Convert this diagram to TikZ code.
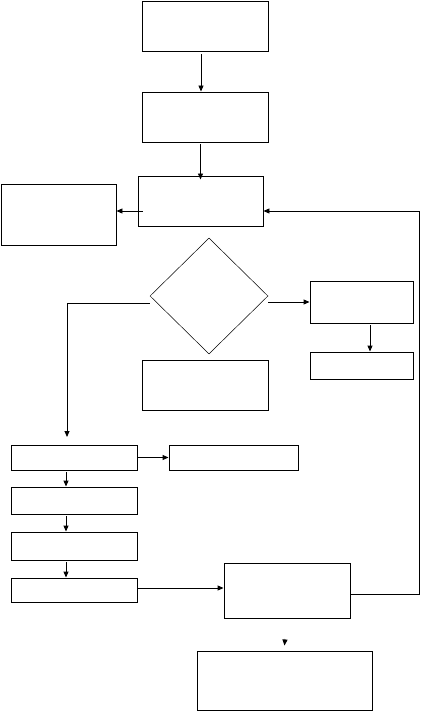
\documentclass[tikz,border=0pt]{standalone}
\usetikzlibrary{arrows.meta,shapes.geometric,calc}
\tikzset{
  blk/.style={draw,rectangle,inner sep=0pt,line width=0.9pt},
  dec/.style={draw,diamond,inner sep=0pt,line width=0.5pt}
}
\begin{document}
\begin{tikzpicture}[x=1pt,y=-1pt,>={Triangle[length=6pt,width=5pt]},line width=0.9pt]
\useasboundingbox (0,0) rectangle (421,711);
% boxes
\node[blk,minimum width=126,minimum height=50] (init) at (205,26) {};
\node[blk,minimum width=126,minimum height=50] (load) at (205,117) {};
\node[blk,minimum width=125,minimum height=50] (main) at (200.5,201) {};
\node[blk,minimum width=115,minimum height=61] (side) at (58.5,214.5) {};
\node[dec,minimum width=118,minimum height=116] (test) at (209,296) {};
\node[blk,minimum width=103,minimum height=42] (yesA) at (361.5,302) {};
\node[blk,minimum width=103,minimum height=27] (yesB) at (361.5,365.5) {};
\node[blk,minimum width=126,minimum height=50] (under) at (205,385) {};
\node[blk,minimum width=126,minimum height=25] (stepA) at (74,457.5) {};
\node[blk,minimum width=129,minimum height=25] (stepB) at (233.5,457.5) {};
\node[blk,minimum width=126,minimum height=27] (stepC) at (74,500.5) {};
\node[blk,minimum width=126,minimum height=28] (stepD) at (74,546) {};
\node[blk,minimum width=126,minimum height=24] (stepE) at (74,590) {};
\node[blk,minimum width=126,minimum height=55] (merge) at (287,590.5) {};
\node[blk,minimum width=175,minimum height=59] (final) at (284.5,680.5) {};
\coordinate (aIn) at (67,437);
\coordinate (gIn) at (285,639);
% connectors
\draw[->] ([xshift=-4pt,yshift=-3pt]init.south) -- ([xshift=-4pt]load.north);
\draw[->] ([yshift=-2pt]load.south -| main.north) -- ([yshift=-4pt]main.north);
\draw[->] ([xshift=5pt,yshift=-10pt]main.west) -- ([yshift=-10pt]main.west -| side.east);
\draw[->] ([yshift=-3.5pt]merge.east) -- ++(69,0) |- ([yshift=-10pt]main.east);
\draw[->] (test.east |- yesA.west) -- (yesA.west);
\draw[->] ([xshift=8.5pt,yshift=-2pt]yesA.south) -- ([xshift=8.5pt]yesB.north);
\draw[->] ($(test.west)+(0,7)$) -| (aIn);
\draw[->] (stepA.east) -- (stepB.west);
\draw[->] ([xshift=-8pt,yshift=-2pt]stepA.south) -- ([xshift=-8pt]stepC.north);
\draw[->] ([xshift=-8pt,yshift=-2pt]stepC.south) -- ([xshift=-8pt]stepD.north);
\draw[->] ([xshift=-8pt,yshift=-2pt]stepD.south) -- ([xshift=-8pt]stepE.north);
\draw[->] ([yshift=2pt]stepE.east) -- ([yshift=2pt]stepE.east -| merge.west);
\draw[->] (gIn) -- ([yshift=5pt]final.north);
\end{tikzpicture}
\end{document}
